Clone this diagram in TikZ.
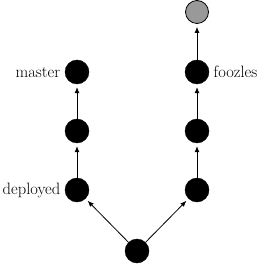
\documentclass[tikz,border=0pt]{standalone}
\usetikzlibrary{arrows.meta}

\tikzset{
  commit/.style={circle, fill=black, draw=black, minimum size=24pt, inner sep=0pt},
  newcommit/.style={circle, fill=black!40, draw=black, line width=0.8pt, minimum size=23pt, inner sep=0pt},
  parent/.style={-{Latex[length=6pt,width=5pt]}, line width=0.8pt, shorten >=3pt},
  branch/.style={font=\fontsize{16.5}{19}\selectfont, label distance=1pt}
}

\begin{document}
\begin{tikzpicture}[x=1pt, y=-1pt]

\useasboundingbox (0,0) rectangle (261,264);

% Root commit
\node[commit] (root) at (137,251) {};

% Left branch
\node[commit, label={[branch]left:deployed}] (dep) at (77,190) {};
\node[commit] (l2) at (77,131) {};
\node[commit, label={[branch]left:master}] (master) at (77,72) {};

% Right branch
\node[commit] (r1) at (197,190) {};
\node[commit] (r2) at (197,131) {};
\node[commit, label={[branch]right:foozles}] (foozles) at (197,72) {};
\node[newcommit] (tip) at (197,12) {};

% Parent links
\draw[parent] (root) -- (dep);
\draw[parent] (root) -- (r1);
\foreach \a/\b in {dep/l2, l2/master, r1/r2, r2/foozles, foozles/tip}
{
    \draw[parent] (\a) -- (\b);
}

\end{tikzpicture}
\end{document}
